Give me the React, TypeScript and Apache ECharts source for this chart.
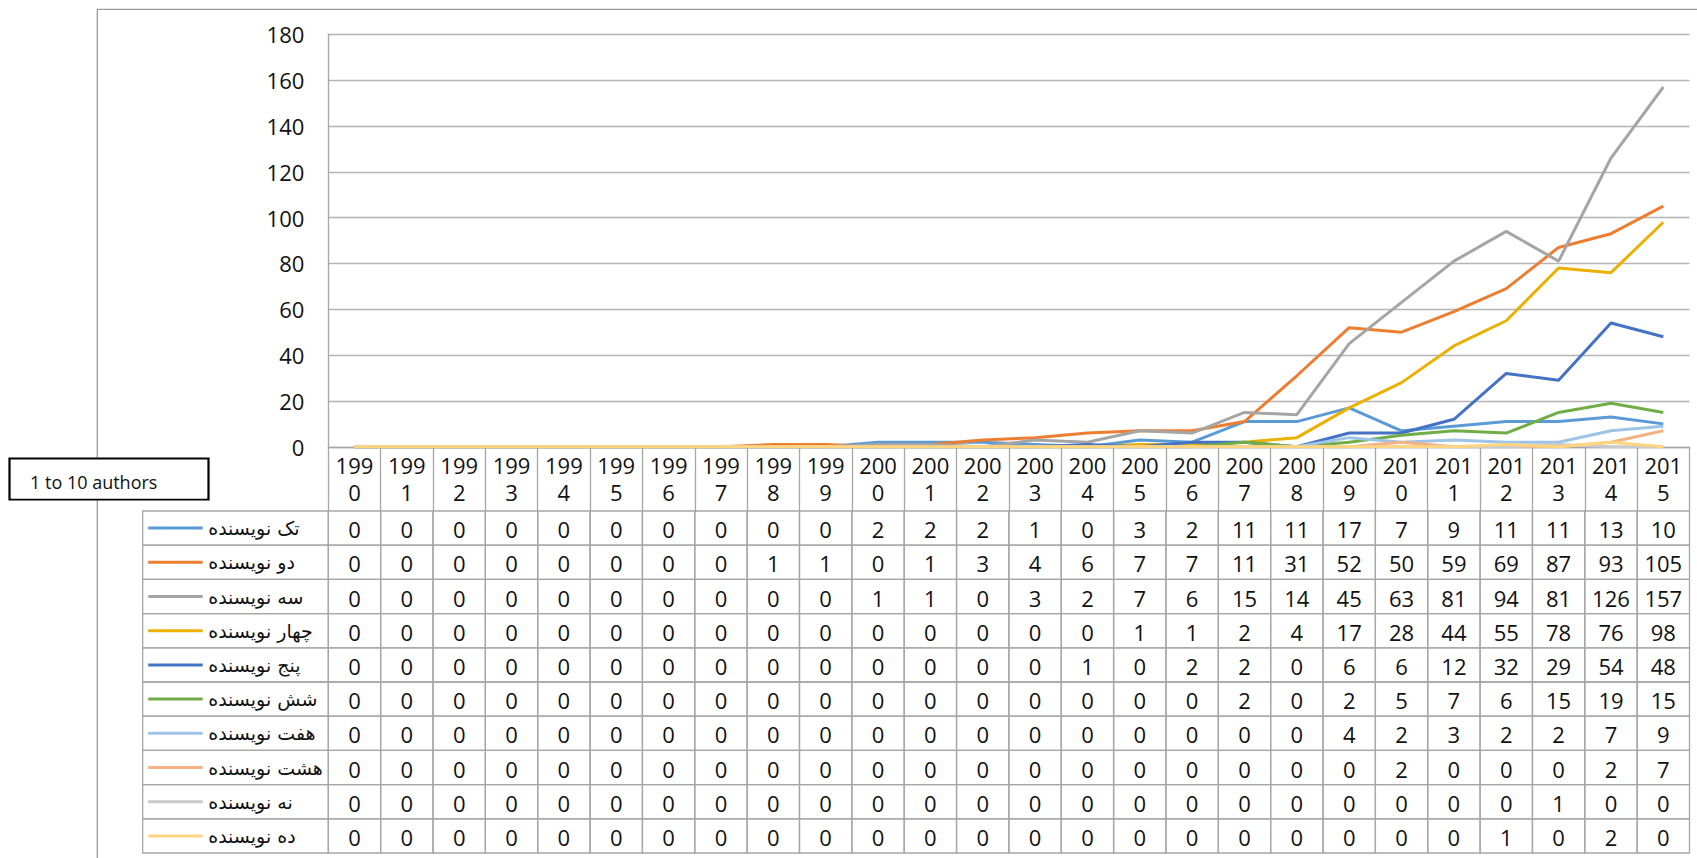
import { useEffect, useRef } from "react";
import * as echarts from "echarts";

const years = ["1990", "1991", "1992", "1993", "1994", "1995", "1996", "1997", "1998", "1999", "2000", "2001", "2002", "2003", "2004", "2005", "2006", "2007", "2008", "2009", "2010", "2011", "2012", "2013", "2014", "2015"];

const seriesNames = ["تک نویسنده", "دو نویسنده", "سه نویسنده", "چهار نویسنده", "پنج نویسنده", "شش نویسنده", "هفت نویسنده", "هشت نویسنده", "نه نویسنده", "ده نویسنده"];

const oneAuthor = [0, 0, 0, 0, 0, 0, 0, 0, 0, 0, 2, 2, 2, 1, 0, 3, 2, 11, 11, 17, 7, 9, 11, 11, 13, 10];
const twoAuthors = [0, 0, 0, 0, 0, 0, 0, 0, 1, 1, 0, 1, 3, 4, 6, 7, 7, 11, 31, 52, 50, 59, 69, 87, 93, 105];
const threeAuthors = [0, 0, 0, 0, 0, 0, 0, 0, 0, 0, 1, 1, 0, 3, 2, 7, 6, 15, 14, 45, 63, 81, 94, 81, 126, 157];
const fourAuthors = [0, 0, 0, 0, 0, 0, 0, 0, 0, 0, 0, 0, 0, 0, 0, 1, 1, 2, 4, 17, 28, 44, 55, 78, 76, 98];
const fiveAuthors = [0, 0, 0, 0, 0, 0, 0, 0, 0, 0, 0, 0, 0, 0, 1, 0, 2, 2, 0, 6, 6, 12, 32, 29, 54, 48];
const sixAuthors = [0, 0, 0, 0, 0, 0, 0, 0, 0, 0, 0, 0, 0, 0, 0, 0, 0, 2, 0, 2, 5, 7, 6, 15, 19, 15];
const sevenAuthors = [0, 0, 0, 0, 0, 0, 0, 0, 0, 0, 0, 0, 0, 0, 0, 0, 0, 0, 0, 4, 2, 3, 2, 2, 7, 9];
const eightAuthors = [0, 0, 0, 0, 0, 0, 0, 0, 0, 0, 0, 0, 0, 0, 0, 0, 0, 0, 0, 0, 2, 0, 0, 0, 2, 7];
const nineAuthors = [0, 0, 0, 0, 0, 0, 0, 0, 0, 0, 0, 0, 0, 0, 0, 0, 0, 0, 0, 0, 0, 0, 0, 1, 0, 0];
const tenAuthors = [0, 0, 0, 0, 0, 0, 0, 0, 0, 0, 0, 0, 0, 0, 0, 0, 0, 0, 0, 0, 0, 0, 1, 0, 2, 0];

const seriesValues = [oneAuthor, twoAuthors, threeAuthors, fourAuthors, fiveAuthors, sixAuthors, sevenAuthors, eightAuthors, nineAuthors, tenAuthors];

const seriesColors = ["#5B9BD5", "#ED7D31", "#A5A5A5", "#EBB000", "#4472C4", "#70AD47", "#9DC3E6", "#F4B183", "#C9C9C9", "#FFD580"];

const boxLabel = "1 to 10 authors";

export default function App() {
  const ref = useRef<HTMLDivElement>(null);

  useEffect(() => {
    document.body.style.margin = "0";
    const chart = echarts.init(ref.current!, null, { renderer: "svg" });

    const W = 1697;
    const H = 858;
    const gridLeft = 328.3;
    const gridTop = 34.3;
    const gridRightEdge = 1689.5;
    const gridBottomEdge = 446.8;
    const headerH = 64.2;
    const rowH = 34.2;
    const rowHeadW = 185.6;
    const lineGray = "#A6A6A6";
    const textColor = "#111111";
    const numFont = '"Open Sans", "Liberation Sans", sans-serif';
    const faFont = '"DejaVu Sans", "Noto Sans", sans-serif';

    const cellData: number[][] = [];
    seriesValues.forEach((vals, r) => vals.forEach((v, c) => cellData.push([c, r, v])));
    const headData = seriesNames.map((_, r) => [0, r]);

    const lineSeries = seriesValues.map((vals, i) => ({
      type: "line",
      name: seriesNames[i],
      data: vals,
      symbol: "none",
      showSymbol: false,
      lineStyle: { color: seriesColors[i], width: 3 },
      itemStyle: { color: seriesColors[i] },
      z: 3,
    }));

    chart.setOption({
      animation: false,
      grid: {
        left: gridLeft,
        top: gridTop,
        right: W - gridRightEdge,
        bottom: H - gridBottomEdge,
        containLabel: false,
      },
      xAxis: {
        type: "category",
        data: years,
        boundaryGap: true,
        axisLine: { show: true, lineStyle: { color: lineGray, width: 1.3 } },
        axisTick: { show: true, interval: 0, length: headerH, lineStyle: { color: lineGray, width: 1.3 } },
        axisLabel: {
          interval: 0,
          margin: 5,
          fontSize: 22,
          lineHeight: 27,
          fontFamily: numFont,
          color: textColor,
          formatter: (v: string) => v.slice(0, 3) + "\n" + v.slice(3),
        },
        splitLine: { show: false },
      },
      yAxis: {
        type: "value",
        min: 0,
        max: 180,
        interval: 20,
        axisLine: { show: true, lineStyle: { color: lineGray, width: 1.3 } },
        axisTick: { show: false },
        axisLabel: { margin: 24, fontSize: 22, fontFamily: numFont, color: textColor },
        splitLine: { show: true, lineStyle: { color: "#B4B4B4", width: 1.3 } },
      },
      series: [
        ...lineSeries,
        {
          type: "custom",
          name: "table",
          silent: true,
          clip: false,
          data: cellData,
          encode: { x: 0, y: 1 },
          z: 1,
          renderItem: (_params: any, api: any) => {
            const c = api.value(0);
            const r = api.value(1);
            const v = api.value(2);
            const center = api.coord([c, 0]);
            const w = api.size([1, 0])[0];
            const x = center[0] - w / 2;
            const y = center[1] + headerH + r * rowH;
            return {
              type: "group",
              children: [
                {
                  type: "rect",
                  shape: { x, y, width: w, height: rowH },
                  style: { fill: "none", stroke: lineGray, lineWidth: 1.3 },
                },
                {
                  type: "text",
                  style: {
                    text: String(v),
                    x: x + w / 2,
                    y: y + rowH / 2 + 1,
                    align: "center",
                    verticalAlign: "middle",
                    fontSize: 22,
                    fontFamily: numFont,
                    fill: textColor,
                  },
                },
              ],
            };
          },
        },
        {
          type: "custom",
          name: "rowHeads",
          silent: true,
          clip: false,
          data: headData,
          encode: { x: 0, y: 1 },
          z: 1,
          renderItem: (_params: any, api: any) => {
            const r = api.value(1);
            const origin = api.coord([0, 0]);
            const w = api.size([1, 0])[0];
            const right = origin[0] - w / 2;
            const left = right - rowHeadW;
            const y = origin[1] + headerH + r * rowH;
            const cy = y + rowH / 2;
            return {
              type: "group",
              children: [
                {
                  type: "rect",
                  shape: { x: left, y, width: rowHeadW, height: rowH },
                  style: { fill: "none", stroke: lineGray, lineWidth: 1.3 },
                },
                {
                  type: "line",
                  shape: { x1: left + 5.5, y1: cy, x2: left + 60, y2: cy },
                  style: { stroke: seriesColors[r], lineWidth: 3 },
                },
                {
                  type: "text",
                  style: {
                    text: seriesNames[r],
                    x: left + 65.5,
                    y: cy,
                    align: "left",
                    verticalAlign: "middle",
                    fontSize: 19,
                    fontFamily: faFont,
                    fill: textColor,
                  },
                },
              ],
            };
          },
        },
      ],
      graphic: [
        {
          type: "rect",
          z: -10,
          silent: true,
          shape: { x: 97.3, y: 9.3, width: 1700, height: 900 },
          style: { fill: "none", stroke: "#9A9A9A", lineWidth: 1.3 },
        },
        {
          type: "rect",
          z: 50,
          silent: true,
          shape: { x: 9.5, y: 458.5, width: 199, height: 41 },
          style: { fill: "#ffffff", stroke: "#000000", lineWidth: 2.2 },
        },
        {
          type: "text",
          z: 51,
          silent: true,
          style: {
            text: boxLabel,
            x: 30,
            y: 481.5,
            align: "left",
            verticalAlign: "middle",
            fontSize: 18,
            fontFamily: numFont,
            fill: textColor,
          },
        },
        {
          type: "rect",
          z: 52,
          silent: true,
          shape: { x: 11, y: 489, width: 196, height: 9.5 },
          style: { fill: "#ffffff" },
        },
      ],
    });

    return () => chart.dispose();
  }, []);

  return <div ref={ref} style={{ width: 1697, height: 858 }} />;
}
